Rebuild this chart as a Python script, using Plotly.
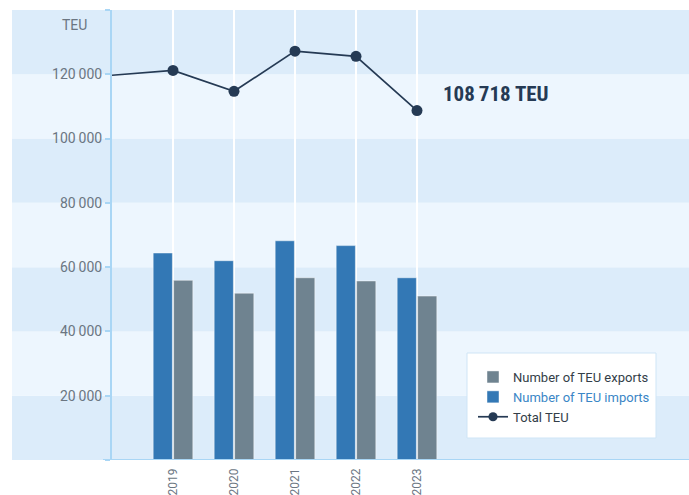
import plotly.graph_objects as go

# ---- data ----
bar_years = [2019, 2020, 2021, 2022, 2023]
teu_imports = [64400, 62000, 68200, 66700, 56700]
teu_exports = [55900, 51900, 56700, 55700, 51000]
total_years = [2018, 2019, 2020, 2021, 2022, 2023]
total_teu = [119700, 121200, 114700, 127200, 125600, 108718]
y_tick_vals = [0, 20000, 40000, 60000, 80000, 100000, 120000, 140000]
y_tick_text = ["", "20\u2009000", "40\u2009000", "60\u2009000", "80\u2009000", "100\u2009000", "120\u2009000", ""]
x_tick_vals = [2019, 2020, 2021, 2022, 2023]
x_tick_text = ["2019", "2020", "2021", "2022", "2023"]

W, H = 689, 495
L, R, T, B = 112, 0, 10, 35
plot_w = W - L - R
plot_h = H - T - B

def px_x(px):
    return (px - L) / plot_w

def px_y(py):
    return (H - B - py) / plot_h

DARK_BAND = "#dcecfa"
LIGHT_BAND = "#edf6fe"
AXIS_BLUE = "#a9d6f5"
NAVY = "#253a54"
TICK_GREY = "#6b7682"

fig = go.Figure()
fig.add_trace(go.Bar(
    x=bar_years, y=teu_imports,
    name="<span style='color:#3a86c6'>Number of TEU imports</span>",
    marker=dict(color="#3378b5", line=dict(color="rgba(255,255,255,0.45)", width=1)),
    legendrank=2,
))
fig.add_trace(go.Bar(
    x=bar_years, y=teu_exports,
    name="Number of TEU exports",
    marker=dict(color="#6f8390", line=dict(color="rgba(255,255,255,0.45)", width=1)),
    legendrank=1,
))
fig.add_trace(go.Scatter(
    x=total_years, y=total_teu, mode="lines+markers",
    name="Total TEU", opacity=1,
    line=dict(color=NAVY, width=1.7),
    marker=dict(color=NAVY, size=[0, 11, 11, 11, 11, 11], opacity=1, line=dict(width=0)),
    legendrank=3,
))

# background bands (extend into left margin)
shapes = []
for i, lo in enumerate(range(0, 140000, 20000)):
    shapes.append(dict(type="rect", xref="paper", yref="y", x0=px_x(12), x1=1,
                       y0=lo, y1=lo + 20000, fillcolor=DARK_BAND if i % 2 == 0 else LIGHT_BAND,
                       line=dict(width=0), layer="below"))
# x axis line extending slightly left
shapes.append(dict(type="line", xref="paper", yref="y", x0=px_x(103), x1=1,
                   y0=0, y1=0, line=dict(color=AXIS_BLUE, width=2), layer="above"))
# legend box
shapes.append(dict(type="rect", xref="paper", yref="paper", x0=px_x(467), x1=px_x(656),
                   y0=px_y(438), y1=px_y(353), fillcolor="white",
                   line=dict(color="#cfe5f6", width=1), layer="above"))

fig.update_layout(
    width=W, height=H,
    margin=dict(l=L, r=R, t=T, b=B, autoexpand=False),
    paper_bgcolor="white", plot_bgcolor="rgba(0,0,0,0)",
    font=dict(family="Roboto", size=12, color=TICK_GREY),
    barmode="group", bargap=0.33, bargroupgap=0.06,
    shapes=shapes,
    showlegend=True,
    legend=dict(x=px_x(473), y=px_y(362), xanchor="left", yanchor="top",
                bgcolor="rgba(0,0,0,0)", borderwidth=0,
                font=dict(family="Roboto", size=13, color="#333e48"),
                itemwidth=30),
    xaxis=dict(range=[2018, 2018 + plot_w / 61.0], tickmode="array",
               tickvals=x_tick_vals, ticktext=x_tick_text, tickangle=-90,
               showgrid=True, gridcolor="white", gridwidth=1.5,
               showline=False, zeroline=False, ticks="", automargin=False,
               ticklabelstandoff=5,
               tickfont=dict(family="Roboto", size=12, color=TICK_GREY)),
    yaxis=dict(range=[0, 140000], tickmode="array", tickvals=y_tick_vals, ticktext=y_tick_text,
               showgrid=False, zeroline=False, showline=True, linecolor=AXIS_BLUE, linewidth=2,
               ticks="outside", ticklen=5, tickcolor=AXIS_BLUE, tickwidth=1.5, automargin=False,
               tickfont=dict(family="Roboto", size=14, color=TICK_GREY)),
    annotations=[
        dict(text="TEU", xref="paper", yref="paper", x=px_x(89), y=px_y(25),
             xanchor="right", yanchor="middle", showarrow=False,
             font=dict(family="Roboto", size=14, color=TICK_GREY)),
        dict(text="<b>108\u2009718 TEU</b>", xref="x", yref="y", x=2018 + (441 - L) / 61.0, y=114000,
             xanchor="left", yanchor="middle", showarrow=False,
             font=dict(family="Roboto Condensed, Roboto", size=21, color=NAVY)),
    ],
)

fig.write_html("out.html", config={"displayModeBar": False},
               post_script="document.body.style.margin='0px';")
